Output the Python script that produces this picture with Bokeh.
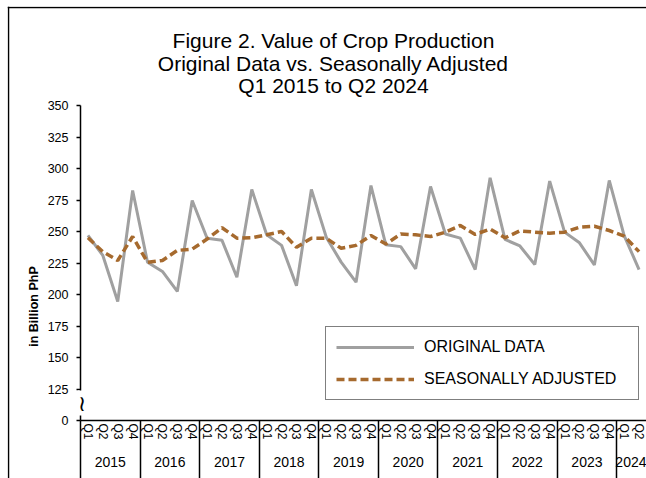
from bokeh.plotting import figure
from bokeh.models import (FixedTicker, LinearAxis, Label, Legend, LegendItem, Range1d,
                          ColumnDataSource, Span, BoxAnnotation)
from bokeh.embed import file_html
from bokeh.resources import INLINE

# ---- data ----
years = ["2015", "2016", "2017", "2018", "2019", "2020", "2021", "2022", "2023", "2024"]
quarters = ["Q1", "Q2", "Q3", "Q4"]

original = [247, 231, 194.4, 282.5,
            225.6, 218.3, 202.4, 274.6,
            244.7, 243, 213.7, 283.3,
            247.4, 239, 207, 283.3,
            245.5, 225.7, 209.8, 286.5,
            239.4, 238, 220.4, 285.7,
            248, 244.7, 219.8, 292.6,
            243.7, 238.5, 223.8, 290,
            249.5, 241, 223.5, 290.5,
            246.8, 219.8]

seasonally_adjusted = [245, 234, 227, 246,
                       225.5, 227, 235, 236,
                       244, 253, 244.7, 245,
                       247.4, 250, 237.5, 244.7,
                       244.7, 236.7, 239, 246.8,
                       240, 248, 247.4, 246,
                       249.5, 254.8, 247.7, 252,
                       245, 250.5, 249.5, 248.7,
                       249.5, 253.4, 254.2, 250.8,
                       246.3, 234]

y_ticks = [100, 125, 150, 175, 200, 225, 250, 275, 300, 325, 350]
y_tick_labels = ["0", "125", "150", "175", "200", "225", "250", "275", "300", "325", "350"]

title_lines = ["Figure 2. Value of Crop Production",
               "Original Data vs. Seasonally Adjusted",
               "Q1 2015 to Q2 2024"]
y_label = "in Billion PhP"

# ---- derived helpers ----
n = len(original)
period_year = [y for y in years for q in quarters][:n]
period_quarter = [q for y in years for q in quarters][:n]
xs = list(range(n))
src = ColumnDataSource(dict(x=xs, original=original, sa=seasonally_adjusted))

year_bounds = [i - 0.5 for i in range(n) if i == 0 or period_year[i] != period_year[i - 1]]
year_centers = []
for y in years:
    idx = [i for i in range(n) if period_year[i] == y]
    year_centers.append(sum(idx) / len(idx))

# ---- geometry (figure pixels; frame fills the whole figure) ----
W, H = 639, 472
L, R, T, B = 73.0, 639.0, 99.0, 414.0          # plotting area inside the figure
Y_LO, Y_HI = 100, 350
ux = (R - L) / n
uy = (B - T) / (Y_HI - Y_LO)


def fx(px):
    return -0.5 + (px - L) / ux


def fy(py):
    return Y_LO + (B - py) / uy


FONT = "Liberation Sans"

p = figure(width=W, height=H, output_backend="svg", toolbar_location=None, tools="",
           x_range=Range1d(fx(0), fx(W)), y_range=Range1d(fy(H), fy(0)),
           x_axis_type=None, y_axis_type=None,
           min_border_left=0, min_border_right=0, min_border_top=0, min_border_bottom=0)
p.toolbar.logo = None
p.toolbar.autohide = True
p.outline_line_color = None
p.background_fill_color = "white"
p.border_fill_color = "white"
p.styles = {"margin-left": "7px", "margin-top": "6px"}

# chart border (left and top edges)
p.add_layout(Span(location=fx(1), dimension="height", line_color="black", line_width=1.5))
p.add_layout(Span(location=fy(1), dimension="width", line_color="black", line_width=1.5))

# y axis
yaxis = LinearAxis(ticker=FixedTicker(ticks=y_ticks), fixed_location=-0.5, bounds=(Y_LO, Y_HI),
                   major_label_overrides={t: l for t, l in zip(y_ticks, y_tick_labels)})
yaxis.axis_line_color = "black"
yaxis.axis_line_width = 1.5
yaxis.major_tick_line_color = "black"
yaxis.major_tick_line_width = 1.5
yaxis.major_tick_out = 4
yaxis.major_tick_in = 0
yaxis.minor_tick_line_color = None
yaxis.major_label_text_font = FONT
yaxis.major_label_text_font_size = "12.5px"
yaxis.major_label_text_color = "black"
yaxis.major_label_standoff = 8
p.add_layout(yaxis, "left")

# quarter axis
qaxis = LinearAxis(ticker=FixedTicker(ticks=xs), fixed_location=Y_LO, bounds=(-0.5, n - 0.5),
                   major_label_overrides={i: q for i, q in zip(xs, period_quarter)})
qaxis.major_label_orientation = "vertical"
qaxis.axis_line_color = "black"
qaxis.axis_line_width = 1.5
qaxis.major_tick_line_color = None
qaxis.major_tick_out = 0
qaxis.major_tick_in = 0
qaxis.minor_tick_line_color = None
qaxis.major_label_text_font = FONT
qaxis.major_label_text_font_size = "12px"
qaxis.major_label_text_color = "black"
qaxis.major_label_standoff = 3
p.add_layout(qaxis, "below")

# year axis
yraxis = LinearAxis(ticker=FixedTicker(ticks=year_centers), fixed_location=fy(448.5),
                    major_label_overrides={c: y for c, y in zip(year_centers, years)})
yraxis.axis_line_color = None
yraxis.major_tick_line_color = None
yraxis.minor_tick_line_color = None
yraxis.major_tick_out = 0
yraxis.major_tick_in = 0
yraxis.major_label_text_font = FONT
yraxis.major_label_text_font_size = "14px"
yraxis.major_label_text_color = "black"
yraxis.major_label_standoff = 2
p.add_layout(yraxis, "below")

# year separators: inward minor ticks of an unlabeled axis at the bottom edge
saxis = LinearAxis(ticker=FixedTicker(ticks=[], minor_ticks=year_bounds), fixed_location=fy(H))
saxis.axis_line_color = None
saxis.major_tick_line_color = None
saxis.major_label_text_font_size = "0px"
saxis.minor_tick_line_color = "black"
saxis.minor_tick_line_width = 1.5
saxis.minor_tick_in = int(round(H - B))
saxis.minor_tick_out = 0
p.add_layout(saxis, "below")

# lines
r1 = p.line(x="x", y="original", source=src, line_color="#A0A0A0", line_width=3)
r2 = p.line(x="x", y="sa", source=src, line_color="#A66A2E", line_width=3.5, line_dash="8 4")

legend = Legend(items=[LegendItem(label="ORIGINAL DATA", renderers=[r1]),
                       LegendItem(label="SEASONALLY ADJUSTED", renderers=[r2])],
                location=(318, 78))
legend.label_text_font = FONT
legend.label_text_font_size = "16px"
legend.label_text_color = "black"
legend.border_line_color = "black"
legend.border_line_width = 1
legend.background_fill_alpha = 1
legend.padding = 10
legend.spacing = 12
legend.label_height = 20
legend.glyph_height = 20
legend.glyph_width = 78
legend.label_standoff = 10
legend.label_width = 204
legend.margin = 0
p.add_layout(legend)

# title
for txt, ty in zip(title_lines, [34.0, 56.5, 79.0]):
    p.add_layout(Label(x=fx(326.0), y=fy(ty), text=txt, text_align="center", text_baseline="middle",
                       text_font=FONT, text_font_size="21px", text_color="black"))

# y axis label
p.add_layout(Label(x=fx(26.0), y=fy(300.0), text=y_label, angle=1.5707963, angle_units="rad",
                   text_align="center", text_baseline="middle",
                   text_font=FONT, text_font_size="12.5px", text_font_style="bold",
                   text_color="black"))

# axis break mark
p.add_layout(Label(x=fx(74.5), y=fy(396.5), text="\u2240", text_align="center", text_baseline="middle",
                   text_font="DejaVu Sans", text_font_size="22px",
                   text_color="black", background_fill_color="white"))

# white patch over the top-right corner (below the top border line)
p.add_layout(BoxAnnotation(left=fx(W - 9), right=fx(W + 2), top=fy(2.5), bottom=fy(18),
                           fill_color="white", fill_alpha=1, line_color=None, level="overlay"))

open("out.html", "w").write(file_html(p, INLINE))
